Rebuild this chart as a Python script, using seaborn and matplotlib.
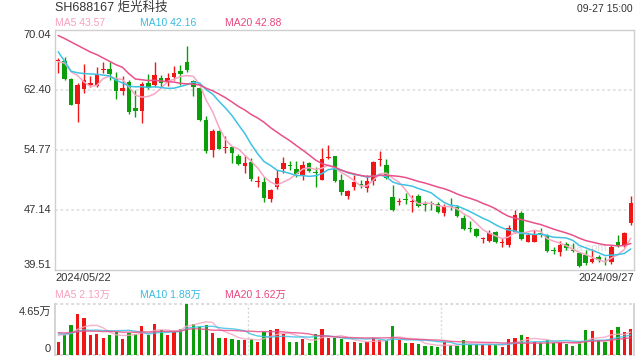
import numpy as np
import pandas as pd
import matplotlib
matplotlib.use('Agg')
import matplotlib.pyplot as plt
import seaborn as sns

# daily candles 2024/05/22 - 2024/09/27
open_ = [66.10, 66.10, 63.81, 60.63, 62.54, 63.05, 62.92, 64.90, 65.08, 63.98,
         62.28, 63.47, 60.12, 59.74, 63.34, 63.05, 63.93, 63.55, 64.10, 64.83,
         65.97, 63.55, 62.71, 58.59, 54.78, 57.20, 54.99, 55.12, 54.02, 52.79,
         53.25, 50.75, 50.71, 48.55, 50.03, 52.36, 52.84, 52.32, 51.60, 53.08,
         51.94, 50.96, 53.72, 54.02, 50.96, 48.93, 50.03, 50.45, 49.99, 50.88,
         53.45, 52.87, 48.85, 48.10, 48.44, 48.10, 48.93, 47.80, 47.90, 47.91,
         46.81, 47.60, 47.49, 46.09, 44.73, 44.73, 43.40, 43.25, 44.39, 42.90,
         42.70, 44.39, 46.72, 43.12, 43.12, 44.18, 43.97, 41.93, 41.85, 42.78,
         41.93, 41.72, 41.42, 40.58, 41.21, 40.60, 40.49, 43.12, 42.70, 45.45]
high = [66.44, 66.56, 63.90, 63.26, 65.67, 64.23, 65.29, 65.93, 66.00, 64.74,
        64.19, 63.68, 62.41, 63.38, 64.44, 66.01, 64.32, 64.53, 65.50, 65.59,
        68.00, 63.68, 62.83, 59.10, 57.41, 57.32, 56.56, 55.29, 54.27, 54.14,
        53.72, 51.47, 51.39, 49.82, 52.24, 53.93, 53.38, 53.38, 53.38, 53.30,
        52.66, 55.00, 55.37, 54.02, 51.73, 49.69, 51.60, 50.96, 51.60, 53.42,
        54.65, 53.63, 50.33, 48.63, 49.27, 49.06, 49.14, 48.29, 48.29, 48.12,
        47.87, 48.63, 47.78, 46.51, 45.75, 44.90, 43.76, 44.60, 44.48, 43.54,
        45.24, 47.15, 47.02, 44.18, 44.60, 44.82, 44.05, 42.48, 43.20, 43.12,
        42.91, 41.85, 42.06, 42.19, 41.42, 41.21, 42.70, 43.97, 44.39, 48.93]
low = [64.61, 63.68, 60.45, 58.38, 61.99, 62.83, 62.83, 64.61, 63.68, 61.22,
       61.77, 59.36, 59.02, 58.17, 62.50, 62.83, 62.75, 62.96, 63.68, 63.05,
       64.74, 61.65, 58.50, 54.35, 53.93, 54.90, 54.35, 53.08, 52.87, 51.90,
       50.88, 50.12, 48.21, 48.21, 49.78, 51.81, 52.24, 51.39, 51.00, 52.02,
       50.03, 50.96, 53.59, 50.67, 49.06, 48.55, 49.69, 49.90, 49.48, 50.33,
       52.79, 51.09, 47.06, 47.80, 47.87, 46.85, 47.57, 47.02, 47.15, 46.81,
       46.39, 47.15, 46.30, 44.60, 44.31, 43.76, 42.91, 43.12, 42.91, 42.48,
       42.48, 44.18, 43.33, 43.04, 43.04, 43.76, 41.85, 41.51, 41.34, 42.06,
       41.76, 39.94, 40.16, 40.37, 40.58, 40.16, 40.24, 42.49, 42.49, 45.24]
close = [66.14, 63.81, 60.50, 63.05, 63.68, 63.34, 64.32, 65.00, 64.40, 62.28,
         62.66, 59.65, 59.74, 63.17, 62.71, 64.32, 63.34, 63.89, 64.61, 64.44,
         64.95, 62.83, 58.59, 54.69, 57.20, 54.95, 55.05, 54.35, 53.00, 53.17,
         51.13, 50.80, 48.72, 49.69, 51.22, 53.08, 52.79, 51.73, 52.91, 52.15,
         51.90, 53.59, 53.76, 50.88, 49.48, 49.56, 50.75, 50.37, 50.83, 53.29,
         53.50, 51.18, 47.15, 48.20, 48.38, 48.15, 47.70, 47.76, 47.85, 46.94,
         47.70, 47.55, 46.43, 44.73, 44.69, 43.88, 43.46, 44.18, 43.04, 42.95,
         44.90, 46.51, 43.46, 43.97, 43.97, 44.14, 41.93, 41.89, 42.70, 42.27,
         41.89, 40.07, 40.45, 40.88, 40.79, 40.58, 42.49, 42.57, 44.18, 47.99]
# volume, in 万 shares
volume = [1.23, 1.80, 2.75, 3.70, 3.38, 1.80, 1.90, 1.58, 1.80, 2.12,
          1.49, 2.02, 1.90, 2.66, 1.80, 2.85, 2.28, 1.80, 2.12, 2.34,
          4.65, 2.81, 2.59, 2.75, 2.02, 1.58, 1.58, 1.49, 1.33, 1.33,
          1.49, 1.17, 2.12, 2.28, 2.37, 1.96, 1.17, 1.17, 1.49, 1.08,
          1.90, 2.37, 1.55, 1.55, 1.42, 1.17, 1.23, 1.08, 1.17, 1.58,
          1.33, 1.33, 2.66, 1.33, 1.08, 1.08, 1.01, 0.85, 0.80, 0.70,
          1.14, 0.92, 0.85, 1.33, 0.92, 1.01, 0.92, 0.92, 0.92, 0.76,
          1.42, 1.55, 1.80, 1.61, 1.17, 1.08, 1.33, 1.08, 1.17, 1.00,
          0.85, 1.17, 2.28, 2.18, 1.33, 1.17, 2.28, 2.56, 2.06, 2.37]

# sessions before the window, needed to start the moving averages
prev_close = [71.4, 69.1, 71.6, 72.3, 71.9, 70.9, 73.6, 73.0, 70.9, 69.3,
              76.0, 73.0, 65.0, 64.7, 63.8, 64.8, 66.0, 65.4, 67.8]
prev_volume = [2.3, 1.9, 2.1, 2.5, 1.8, 2.2, 2.0, 1.7, 2.4, 2.6,
               1.9, 2.2, 1.8, 2.0, 2.3, 1.6, 2.1, 1.9, 2.2]

first_date = '2024/05/22'
last_date = '2024/09/27'
price_ticks = [39.51, 47.14, 54.77, 62.40, 70.04]

UP = '#f01616'
DOWN = '#0a9f0a'
MA_COLORS = {5: '#f7a6c4', 10: '#3ec3e4', 20: '#e9508a'}
LABEL_COLORS = {5: '#f5a0bf', 10: '#38bde0', 20: '#e8477f'}
GRID = '#e2e2e2'
EDGE = '#cfcfcf'

df = pd.DataFrame({'open': open_, 'high': high, 'low': low,
                   'close': close, 'vol': volume})
df['i'] = np.arange(len(df))
df['up'] = df['close'] >= df['open']
df['color'] = np.where(df['up'], UP, DOWN)

all_close = pd.Series(prev_close + close)
all_vol = pd.Series(prev_volume + volume)
n0 = len(prev_close)
for n in (5, 10, 20):
    df[f'ma{n}'] = all_close.rolling(n).mean().iloc[n0:].values
    df[f'vma{n}'] = all_vol.rolling(n).mean().iloc[n0:].values

sns.set_theme(style='white')
plt.rcParams['font.family'] = ['Liberation Sans', 'Noto Sans CJK SC', 'DejaVu Sans']

W, H = 640, 360
fig = plt.figure(figsize=(6.4, 3.6), dpi=100)
ax = fig.add_axes([55 / W, 1 - 270 / H, 579 / W, 240 / H])
vax = fig.add_axes([55 / W, 1 - 355 / H, 579 / W, 51 / H])

# price panel
for y in price_ticks[1:-1]:
    ax.axhline(y, color=GRID, lw=1.3, dashes=(1.5, 1.5), zorder=0)
ax.text(0.915, 0.09, 'sina.com', transform=ax.transAxes, color='#dcdcdc',
        fontsize=8, ha='center', va='center', zorder=0)
ax.vlines(df['i'], df['low'], df['high'], colors=df['color'], lw=1.0, zorder=2)
body = (df['close'] - df['open']).abs().clip(lower=0.13)
ax.bar(df['i'], body, bottom=df[['open', 'close']].min(axis=1),
       width=0.7, color=df['color'], linewidth=0, zorder=3)
for n in (5, 10, 20):
    sns.lineplot(data=df, x='i', y=f'ma{n}', ax=ax, color=MA_COLORS[n],
                 lw=1.1, zorder=4)
ax.set_xlim(-0.5, len(df) - 0.5)
ax.set_ylim(price_ticks[0], price_ticks[-1])
ax.set_xticks([])
ax.set_yticks([])
ax.set_xlabel('')
ax.set_ylabel('')
for s in ax.spines.values():
    s.set_color(EDGE)
    s.set_linewidth(1.0)

ytr = ax.get_yaxis_transform()
for k, y in enumerate(price_ticks):
    va = 'bottom' if k == 0 else ('top' if k == len(price_ticks) - 1 else 'center')
    ax.text(-0.007, y, f'{y:.2f}', transform=ytr, ha='right', va=va,
            fontsize=8, color='#333333')
ax.text(0, -0.012, first_date, transform=ax.transAxes, ha='left', va='top',
        fontsize=8, color='#333333')
ax.text(1, -0.012, last_date, transform=ax.transAxes, ha='right', va='top',
        fontsize=8, color='#333333')

# volume panel
vax.bar(df['i'], df['vol'], width=0.5, color=df['color'], linewidth=0, zorder=2)
for n in (5, 10, 20):
    sns.lineplot(data=df, x='i', y=f'vma{n}', ax=vax, color=MA_COLORS[n],
                 lw=1.0, alpha=0.85, zorder=3)
vmax = max(volume)
vax.set_xlim(-0.5, len(df) - 0.5)
vax.set_ylim(0, vmax)
vax.set_xticks([])
vax.set_yticks([])
vax.set_xlabel('')
vax.set_ylabel('')
for y in (0, vmax):
    vax.axhline(y, color='#d8d8d8', lw=1.3, dashes=(1.5, 1.5), zorder=0, clip_on=False)
for x in (len(df) / 3 - 0.5, 2 * len(df) / 3 - 0.5):
    vax.axvline(x, color='#d8d8d8', lw=1.0, dashes=(1.5, 1.5), zorder=0)
vax.spines['top'].set_visible(False)
vax.spines['bottom'].set_visible(False)
vax.spines['left'].set_color(EDGE)
vax.spines['right'].set_color(EDGE)
vtr = vax.get_yaxis_transform()
vax.text(-0.007, vmax * 0.85, f'{vmax:.2f}万', transform=vtr, ha='right',
         va='center', fontsize=8, color='#333333')
vax.text(-0.007, vmax * 0.12, '0', transform=vtr, ha='right', va='center',
         fontsize=8, color='#333333')

# header texts
fig.text(55 / W, 1 - 8 / H, 'SH688167 炬光科技', fontsize=9, color='#333333',
         ha='left', va='center')
fig.text(633 / W, 1 - 9 / H, '09-27 15:00', fontsize=7.5, color='#333333',
         ha='right', va='center')
legend_x = {5: 55, 10: 140, 20: 225}
price_ma = {5: 'MA5 43.57', 10: 'MA10 42.16', 20: 'MA20 42.88'}
vol_ma = {5: 'MA5 2.13万', 10: 'MA10 1.88万', 20: 'MA20 1.62万'}
for n in (5, 10, 20):
    fig.text(legend_x[n] / W, 1 - 23 / H, price_ma[n], fontsize=7.5,
             color=LABEL_COLORS[n], ha='left', va='center')
    fig.text(legend_x[n] / W, 1 - 295 / H, vol_ma[n], fontsize=7.5,
             color=LABEL_COLORS[n], ha='left', va='center')

fig.savefig('out.png', dpi=100)
